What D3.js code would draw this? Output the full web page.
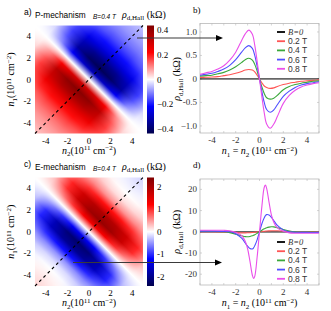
<!DOCTYPE html>
<html lang="en">
<head>
<meta charset="UTF-8">
<title>Hall resistivity maps</title>
<style>
  body { margin: 0; background: #fff; }
  svg { display: block; }
</style>
</head>
<body>
<script src="https://d3js.org/d3.v7.min.js"></script>
<script>
// maps are stored along the diagonal: rows u = (n1+n2)/2 from 5 to -5,
// columns w = (n1-n2)/2 from -5 to 5 (10^11 cm^-2)
const uRows = [5, 4.5, 4, 3.5, 3, 2.5, 2, 1.5, 1, 0.5, 0, -0.5, -1, -1.5, -2, -2.5, -3, -3.5, -4, -4.5, -5];
const wCols = [-5, -4, -3, -2, -1, 0, 1, 2, 3, 4, 5];

// P-mechanism, B = 0.4 T (kOhm)
const pMap = [
  [-.01, -.02, -.03, -.04, -.05, -.05, -.05, -.04, -.03, -.02, -.01],
  [-.01, -.03, -.04, -.06, -.07, -.07, -.07, -.06, -.04, -.03, -.01],
  [-.02, -.04, -.06, -.08, -.09, -.09, -.09, -.08, -.06, -.04, -.02],
  [-.02, -.05, -.08, -.11, -.12, -.12, -.12, -.11, -.08, -.05, -.02],
  [-.02, -.05, -.10, -.14, -.16, -.16, -.16, -.14, -.10, -.05, -.02],
  [-.02, -.06, -.13, -.19, -.21, -.21, -.21, -.19, -.13, -.06, -.02],
  [-.02, -.06, -.16, -.25, -.27, -.28, -.27, -.25, -.16, -.06, -.02],
  [-.01, -.05, -.17, -.31, -.36, -.37, -.36, -.31, -.17, -.05, -.01],
  [-.01, -.04, -.15, -.34, -.41, -.43, -.41, -.34, -.15, -.04, -.01],
  [0, -.02, -.10, -.23, -.29, -.31, -.29, -.23, -.10, -.02, 0],
  [0, 0, 0, 0, 0, 0, 0, 0, 0, 0, 0],
  [0, .02, .10, .23, .29, .31, .29, .23, .10, .02, 0],
  [.01, .04, .15, .34, .41, .43, .41, .34, .15, .04, .01],
  [.01, .05, .17, .31, .36, .37, .36, .31, .17, .05, .01],
  [.02, .06, .16, .25, .27, .28, .27, .25, .16, .06, .02],
  [.02, .06, .13, .19, .21, .21, .21, .19, .13, .06, .02],
  [.02, .05, .10, .14, .16, .16, .16, .14, .10, .05, .02],
  [.02, .05, .08, .11, .12, .12, .12, .11, .08, .05, .02],
  [.02, .04, .06, .08, .09, .09, .09, .08, .06, .04, .02],
  [.01, .03, .04, .06, .07, .07, .07, .06, .04, .03, .01],
  [.01, .02, .03, .04, .05, .05, .05, .04, .03, .02, .01]
];

// E-mechanism, B = 0.4 T (kOhm)
const eMap = [
  [0, 0, -.05, -.1, -.17, -.2, -.17, -.1, -.05, 0, 0],
  [0, 0, 0, -.06, -.12, -.15, -.12, -.06, 0, 0, 0],
  [0, 0, .03, 0, -.05, -.08, -.05, 0, .03, 0, 0],
  [0, .05, .1, .1, .03, 0, .03, .1, .1, .05, 0],
  [.03, .1, .22, .25, .18, .15, .18, .25, .22, .1, .03],
  [.05, .2, .45, .55, .52, .5, .52, .55, .45, .2, .05],
  [.08, .3, .75, 1.0, 1.12, 1.15, 1.12, 1.0, .75, .3, .08],
  [.1, .45, 1.05, 1.65, 1.9, 1.95, 1.9, 1.65, 1.05, .45, .1],
  [.08, .35, 1.0, 1.7, 2.1, 2.2, 2.1, 1.7, 1.0, .35, .08],
  [.05, .2, .55, .95, 1.25, 1.35, 1.25, .95, .55, .2, .05],
  [0, 0, 0, 0, 0, 0, 0, 0, 0, 0, 0],
  [-.05, -.2, -.55, -.95, -1.25, -1.35, -1.25, -.95, -.55, -.2, -.05],
  [-.08, -.35, -1.0, -1.7, -2.1, -2.2, -2.1, -1.7, -1.0, -.35, -.08],
  [-.1, -.45, -1.05, -1.65, -1.9, -1.95, -1.9, -1.65, -1.05, -.45, -.1],
  [-.08, -.3, -.75, -1.0, -1.12, -1.15, -1.12, -1.0, -.75, -.3, -.08],
  [-.05, -.2, -.45, -.55, -.52, -.5, -.52, -.55, -.45, -.2, -.05],
  [-.03, -.1, -.22, -.25, -.18, -.15, -.18, -.25, -.22, -.1, -.03],
  [0, -.05, -.1, -.1, -.03, 0, -.03, -.1, -.1, -.05, 0],
  [0, 0, -.03, 0, .05, .08, .05, 0, -.03, 0, 0],
  [0, 0, 0, .06, .12, .15, .12, .06, 0, 0, 0],
  [0, 0, .05, .1, .17, .2, .17, .1, .05, 0, 0]
];

const fields = ["B=0", "0.2 T", "0.4 T", "0.6 T", "0.8 T"];
const fieldColors = ["#000000", "#ff5555", "#3aa83a", "#4f4fff", "#ea4fea"];

// cut along n1 = n2, P-mechanism
const nB = [-5, -4.5, -4, -3.5, -3, -2.5, -2, -1.5, -1.2, -0.9, -0.6, -0.4, -0.2, 0,
  0.2, 0.4, 0.6, 0.9, 1.2, 1.5, 2, 2.5, 3, 3.5, 4, 4.5, 5];
const pB0 = [0, 0, 0, 0, 0, 0, 0, 0, 0, 0, 0, 0, 0, 0, 0, 0, 0, 0, 0, 0, 0, 0, 0, 0, 0, 0, 0];
const pB02 = [.03, .035, .04, .05, .07, .09, .12, .16, .19, .2, .19, .15, .08, 0,
  -.08, -.15, -.18, -.2, -.19, -.16, -.12, -.09, -.07, -.05, -.04, -.03, -.02];
const pB04 = [.06, .07, .08, .11, .14, .19, .26, .35, .41, .44, .40, .31, .17, 0,
  -.17, -.31, -.40, -.43, -.41, -.35, -.23, -.16, -.12, -.09, -.07, -.05, -.04];
const pB06 = [.08, .10, .12, .16, .21, .29, .41, .57, .66, .71, .65, .50, .27, 0,
  -.27, -.50, -.65, -.71, -.66, -.55, -.37, -.26, -.18, -.13, -.10, -.08, -.06];
const pB08 = [.10, .13, .16, .21, .28, .40, .57, .82, .96, 1.04, .95, .72, .38, 0,
  -.38, -.72, -.96, -1.05, -.96, -.80, -.52, -.35, -.24, -.17, -.13, -.10, -.08];

// cut along n1 = n2, E-mechanism
const nD = [-5, -4, -3, -2.5, -2, -1.5, -1.2, -1, -0.8, -0.6, -0.5, -0.4, -0.2, 0,
  0.2, 0.4, 0.5, 0.6, 0.8, 1, 1.2, 1.5, 2, 2.5, 3, 4, 5];
const eB0 = [0, 0, 0, 0, 0, 0, 0, 0, 0, 0, 0, 0, 0, 0, 0, 0, 0, 0, 0, 0, 0, 0, 0, 0, 0, 0, 0];
const eB02 = [.05, .05, -.05, -.2, -.35, -.5, -.5, -.48, -.42, -.35, -.3, -.25, -.12, 0,
  .12, .25, .3, .35, .42, .48, .5, .5, .35, .2, .05, -.05, -.05];
const eB04 = [.2, .15, 0, -.4, -1.1, -1.9, -2.3, -2.35, -2.2, -1.9, -1.65, -1.4, -.75, 0,
  .75, 1.4, 1.65, 1.9, 2.2, 2.35, 2.3, 1.9, 1.1, .4, 0, -.15, -.2];
const eB06 = [.3, .3, .2, 0, -.9, -3, -5.3, -6.8, -7.9, -8.1, -7.6, -6.6, -3.8, 0,
  3.8, 6.6, 7.6, 8.1, 7.9, 6.8, 5.3, 3, .9, 0, -.2, -.3, -.3];
const eB08 = [.7, .7, .7, .5, -.2, -1.8, -4.5, -8, -14, -20.5, -22, -21, -12, 0,
  12, 21, 22, 20.5, 14, 8, 4.5, 1.8, .2, -.5, -.7, -.7, -.7];

const mapTicks = [-4, -2, 0, 2, 4];
const pBarTicks = [0.4, 0.2, 0, -0.2, -0.4];
const eBarTicks = [2, 1, 0, -1, -2];
const pCutTicks = [1.0, 0.5, 0, -0.5, -1.0];
const eCutTicks = [20, 10, 0, -10, -20];

const seismic = ["#00004d", "#0000ff", "#ffffff", "#ff0000", "#800000"];
const serif = "Liberation Serif";
const sans = "Liberation Sans";

const svg = d3.select("body").append("svg")
  .attr("width", 331).attr("height", 311)
  .attr("font-family", serif);

// text with italic / sub / sup pieces
function rich(sel, parts) {
  let shift = 0;
  parts.forEach(([t, k]) => {
    const ts = sel.append("tspan").text(t);
    const target = k === "sub" ? 2.5 : k === "sup" ? -3.5 : 0;
    if (target !== shift) { ts.attr("dy", target - shift); shift = target; }
    if (k === "sub" || k === "sup") ts.attr("font-size", "0.7em");
    if (k === "i") ts.attr("font-style", "italic");
  });
  return sel;
}

const mapXLabel = [["n", "i"], ["2", "sub"], ["(10", ""], ["11", "sup"], [" cm", ""], ["\u22122", "sup"], [")", ""]];
const mapYLabel = [["n", "i"], ["1", "sub"], ["(10", ""], ["11", "sup"], [" cm", ""], ["\u22122", "sup"], [")", ""]];
const rhoLabel = [["\u03c1", "i"], ["d,Hall", "sub"], [" (k\u03a9)", ""]];
const cutXLabel = [["n", "i"], ["1", "sub"], [" = ", ""], ["n", "i"], ["2", "sub"], [" (10", ""], ["11", "sup"], [" cm", ""], ["\u22122", "sup"], [")", ""]];

function heatmap(id, data, top, bottom, max, barTicks, letter, title) {
  const g = svg.append("g");
  const x = d3.scaleLinear().domain([-5, 5]).range([35, 143]);
  const y = d3.scaleLinear().domain([-5, 5]).range([bottom, top]);
  const color = d3.scaleLinear()
    .domain([-max, -max / 2, 0, max / 2, max]).range(seismic).clamp(true);

  // one canvas pixel per grid cell, the browser smooths it when scaled
  const cv = document.createElement("canvas");
  cv.width = wCols.length; cv.height = uRows.length;
  const ctx = cv.getContext("2d");
  data.forEach((row, i) => row.forEach((v, j) => {
    ctx.fillStyle = color(v);
    ctx.fillRect(j, i, 1, 1);
  }));

  svg.append("clipPath").attr("id", id)
    .append("rect").attr("x", x(-5)).attr("y", y(5))
    .attr("width", x(5) - x(-5)).attr("height", y(-5) - y(5));

  // image axes (w, u) turned onto (n2, n1): n2 = u - w, n1 = u + w
  const kx = x(1) - x(0), ky = y(0) - y(1);
  const du = uRows[0] - uRows[1], dw = wCols[1] - wCols[0];
  const u0 = uRows[0], w0 = wCols[0];
  const m = [-kx * dw, -ky * dw, -kx * du, ky * du,
    x(0) + kx * (u0 + du / 2 - w0 + dw / 2),
    y(0) - ky * (u0 + du / 2 + w0 - dw / 2)];
  g.append("g").attr("clip-path", `url(#${id})`)
    .append("image")
    .attr("href", cv.toDataURL())
    .attr("width", wCols.length).attr("height", uRows.length)
    .attr("preserveAspectRatio", "none")
    .attr("transform", `matrix(${m.join(",")})`);

  // n1 = n2 diagonal
  g.append("line")
    .attr("x1", x(-5)).attr("y1", y(-5)).attr("x2", x(5)).attr("y2", y(5))
    .attr("stroke", "#000").attr("stroke-width", 1.1).attr("stroke-dasharray", "3,3");

  g.selectAll(".xt").data(mapTicks).join("text")
    .attr("x", d => x(d)).attr("y", bottom + 10)
    .attr("text-anchor", "middle").attr("font-size", 9)
    .text(d => d);
  g.selectAll(".yt").data(mapTicks).join("text")
    .attr("x", 31).attr("y", d => y(d) + 3)
    .attr("text-anchor", "end").attr("font-size", 9)
    .text(d => d);

  rich(g.append("text").attr("x", x(0)).attr("y", bottom + 20)
    .attr("text-anchor", "middle").attr("font-size", 10), mapXLabel);
  rich(g.append("text")
    .attr("transform", `translate(14,${y(0)}) rotate(-90)`)
    .attr("text-anchor", "middle").attr("font-size", 10), mapYLabel);

  // colour bar
  const cb = d3.scaleLinear().domain([-max, max]).range([bottom, top]);
  const grad = svg.append("defs").append("linearGradient")
    .attr("id", id + "g").attr("x1", 0).attr("y1", 1).attr("x2", 0).attr("y2", 0);
  grad.selectAll("stop").data(color.domain()).join("stop")
    .attr("offset", d => (d + max) / (2 * max))
    .attr("stop-color", d => color(d));
  g.append("rect").attr("x", 147).attr("y", top).attr("width", 7)
    .attr("height", bottom - top).attr("fill", `url(#${id}g)`);
  g.selectAll(".ct").data(barTicks).join("text")
    .attr("x", 157).attr("y", d => cb(d) + 3)
    .attr("font-size", 9)
    .text(d => d === 0 ? "0" : (Math.abs(d) < 1 ? d3.format(".1f")(d) : d));

  // headings
  g.append("text").attr("x", 24).attr("y", top - 11).attr("font-size", 8.5)
    .attr("font-family", sans).text(letter);
  g.append("text").attr("x", 35).attr("y", top - 8).attr("font-size", 8.3)
    .attr("font-family", sans).text(title);
  g.append("text").attr("x", 93).attr("y", top - 7).attr("font-size", 6.5)
    .attr("font-family", sans).attr("font-style", "italic").text("B=0.4 T");
  rich(g.append("text").attr("x", 122).attr("y", top - 8).attr("font-size", 10), rhoLabel);
}

function cut(xs, series, top, bottom, yDomain, ticks, letter, legendTop) {
  const g = svg.append("g");
  const left = 200, right = 319;
  const x = d3.scaleLinear().domain([-5, 5]).range([left, right]);
  const y = d3.scaleLinear().domain(yDomain).range([bottom, top]);

  g.append("rect").attr("x", left).attr("y", top)
    .attr("width", right - left).attr("height", bottom - top)
    .attr("fill", "none").attr("stroke", "#b8b8b8").attr("stroke-width", 0.8);

  const minor = d3.range(-5, 5.01, 1);
  g.selectAll(".tb").data(minor).join("line")
    .attr("x1", d => x(d)).attr("x2", d => x(d))
    .attr("y1", bottom).attr("y2", bottom - 2).attr("stroke", "#b8b8b8").attr("stroke-width", 0.6);
  g.selectAll(".tt").data(minor).join("line")
    .attr("x1", d => x(d)).attr("x2", d => x(d))
    .attr("y1", top).attr("y2", top + 2).attr("stroke", "#b8b8b8").attr("stroke-width", 0.6);
  g.selectAll(".tl").data(ticks).join("line")
    .attr("x1", left).attr("x2", left + 2)
    .attr("y1", d => y(d)).attr("y2", d => y(d)).attr("stroke", "#b8b8b8").attr("stroke-width", 0.6);
  g.selectAll(".tr").data(ticks).join("line")
    .attr("x1", right).attr("x2", right - 2)
    .attr("y1", d => y(d)).attr("y2", d => y(d)).attr("stroke", "#b8b8b8").attr("stroke-width", 0.6);

  g.selectAll(".xl").data(mapTicks).join("text")
    .attr("x", d => x(d)).attr("y", bottom + 10)
    .attr("text-anchor", "middle").attr("font-size", 9).attr("fill", "#333")
    .text(d => d);
  g.selectAll(".yl").data(ticks).join("text")
    .attr("x", left - 3).attr("y", d => y(d) + 3)
    .attr("text-anchor", "end").attr("font-size", 9).attr("fill", "#333")
    .text(d => d === 0 ? "0" : (Number.isInteger(d) && Math.abs(d) < 2 ? d3.format(".1f")(d) : d));

  rich(g.append("text").attr("x", x(0)).attr("y", bottom + 21)
    .attr("text-anchor", "middle").attr("font-size", 10), cutXLabel);
  rich(g.append("text")
    .attr("transform", `translate(180,${y(0)}) rotate(-90)`)
    .attr("text-anchor", "middle").attr("font-size", 10), rhoLabel);

  g.append("text").attr("x", 193).attr("y", top - 11).attr("font-size", 9).text(letter);

  const line = d3.line().x((d, i) => x(xs[i])).y(d => y(d)).curve(d3.curveCatmullRom.alpha(0.5));
  g.selectAll(".curve").data(series).join("path")
    .attr("d", line)
    .attr("fill", "none")
    .attr("stroke", (d, i) => fieldColors[i])
    .attr("stroke-opacity", (d, i) => i === 0 ? 0.6 : 1)
    .attr("stroke-width", (d, i) => i === 0 ? 1.8 : 1.1);

  const lg = g.append("g");
  fields.forEach((f, i) => {
    const ly = legendTop + i * 9.2;
    lg.append("line").attr("x1", 277).attr("x2", 285).attr("y1", ly).attr("y2", ly)
      .attr("stroke", fieldColors[i]).attr("stroke-width", 1.8);
    const t = lg.append("text").attr("x", 288).attr("y", ly + 3).attr("font-size", 8.5)
      .attr("fill", "#333");
    if (i === 0) t.attr("font-style", "italic").attr("font-family", serif).text(f);
    else t.attr("font-family", sans).text(f);
  });
}

function arrow(x1, x2, yy) {
  svg.append("line").attr("x1", x1).attr("x2", x2 - 6).attr("y1", yy).attr("y2", yy)
    .attr("stroke", "#3a3a3a").attr("stroke-width", 1.2);
  svg.append("path")
    .attr("d", `M${x2},${yy} L${x2 - 7},${yy - 3} L${x2 - 7},${yy + 3} Z`)
    .attr("fill", "#000");
}

heatmap("clipA", pMap, 25.5, 133.5, 0.44, pBarTicks, "a)", "P-mechanism");
heatmap("clipC", eMap, 177.5, 286, 2.4, eBarTicks, "c)", "E-mechanism");
cut(nB, [pB0, pB02, pB04, pB06, pB08], 23.5, 133, [-1.15, 1.18], pCutTicks, "b)", 32);
cut(nD, [eB0, eB02, eB04, eB06, eB08], 179, 285, [-25.1, 24.9], eCutTicks, "d)", 242);
arrow(137, 223, 38);
arrow(73, 222, 262.5);
</script>
</body>
</html>
